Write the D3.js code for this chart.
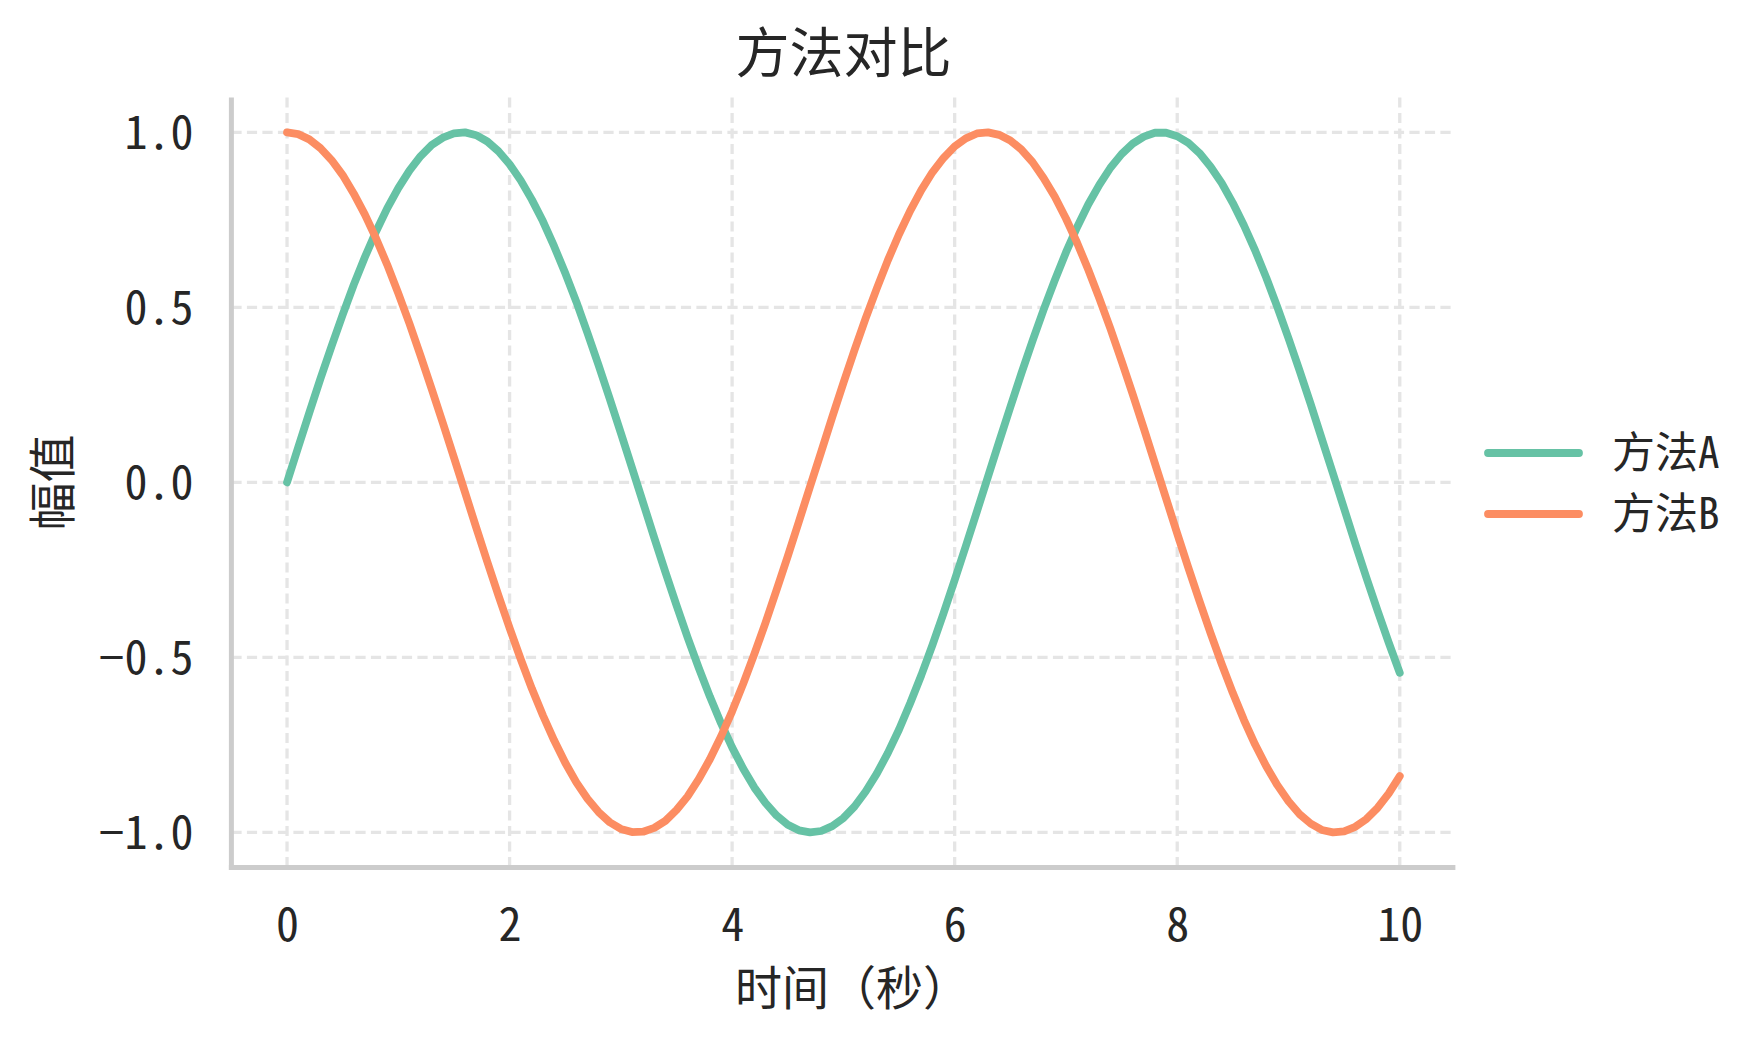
<!DOCTYPE html>
<html>
<head>
<meta charset="utf-8">
<script src="https://cdn.jsdelivr.net/npm/d3@7"></script>
<style>
    body { margin: 0; background: #fff; }
    svg text {
        font-family: "Noto Sans CJK SC", sans-serif;
        fill: #262626;
    }
    svg .hw { font-feature-settings: "hwid"; }
</style>
</head>
<body>
<div id="chart-container"></div>
<script>
// time axis (seconds), every 0.1 s
const times = [
    0.0, 0.1, 0.2, 0.3, 0.4, 0.5, 0.6, 0.7, 0.8, 0.9,
    1.0, 1.1, 1.2, 1.3, 1.4, 1.5, 1.6, 1.7, 1.8, 1.9,
    2.0, 2.1, 2.2, 2.3, 2.4, 2.5, 2.6, 2.7, 2.8, 2.9,
    3.0, 3.1, 3.2, 3.3, 3.4, 3.5, 3.6, 3.7, 3.8, 3.9,
    4.0, 4.1, 4.2, 4.3, 4.4, 4.5, 4.6, 4.7, 4.8, 4.9,
    5.0, 5.1, 5.2, 5.3, 5.4, 5.5, 5.6, 5.7, 5.8, 5.9,
    6.0, 6.1, 6.2, 6.3, 6.4, 6.5, 6.6, 6.7, 6.8, 6.9,
    7.0, 7.1, 7.2, 7.3, 7.4, 7.5, 7.6, 7.7, 7.8, 7.9,
    8.0, 8.1, 8.2, 8.3, 8.4, 8.5, 8.6, 8.7, 8.8, 8.9,
    9.0, 9.1, 9.2, 9.3, 9.4, 9.5, 9.6, 9.7, 9.8, 9.9,
    10.0
];

const methodA = [
    0.000, 0.100, 0.199, 0.296, 0.389, 0.479, 0.565, 0.644, 0.717, 0.783,
    0.841, 0.891, 0.932, 0.964, 0.985, 0.997, 1.000, 0.992, 0.974, 0.946,
    0.909, 0.863, 0.808, 0.746, 0.675, 0.598, 0.516, 0.427, 0.335, 0.239,
    0.141, 0.042, -0.058, -0.158, -0.256, -0.351, -0.443, -0.530, -0.612, -0.688,
    -0.757, -0.818, -0.872, -0.916, -0.952, -0.978, -0.994, -1.000, -0.996, -0.982,
    -0.959, -0.926, -0.883, -0.832, -0.773, -0.706, -0.631, -0.551, -0.465, -0.374,
    -0.279, -0.182, -0.083, 0.017, 0.117, 0.215, 0.312, 0.405, 0.494, 0.578,
    0.657, 0.729, 0.794, 0.850, 0.899, 0.938, 0.968, 0.988, 0.999, 0.999,
    0.989, 0.970, 0.941, 0.902, 0.855, 0.798, 0.734, 0.663, 0.585, 0.501,
    0.412, 0.319, 0.223, 0.124, 0.025, -0.075, -0.175, -0.272, -0.366, -0.457,
    -0.544
];

const methodB = [
    1.000, 0.995, 0.980, 0.955, 0.921, 0.878, 0.825, 0.765, 0.697, 0.622,
    0.540, 0.454, 0.362, 0.267, 0.170, 0.071, -0.029, -0.129, -0.227, -0.323,
    -0.416, -0.505, -0.589, -0.666, -0.737, -0.801, -0.857, -0.904, -0.942, -0.971,
    -0.990, -0.999, -0.998, -0.987, -0.967, -0.936, -0.897, -0.848, -0.791, -0.726,
    -0.654, -0.575, -0.490, -0.401, -0.307, -0.211, -0.112, -0.012, 0.087, 0.187,
    0.284, 0.378, 0.469, 0.554, 0.635, 0.709, 0.776, 0.835, 0.886, 0.927,
    0.960, 0.983, 0.997, 1.000, 0.993, 0.977, 0.951, 0.915, 0.869, 0.816,
    0.754, 0.685, 0.608, 0.526, 0.439, 0.347, 0.252, 0.154, 0.054, -0.046,
    -0.146, -0.244, -0.339, -0.431, -0.519, -0.602, -0.679, -0.749, -0.811, -0.865,
    -0.911, -0.948, -0.975, -0.993, -1.000, -0.997, -0.984, -0.962, -0.930, -0.889,
    -0.839
];

const seriesNames = ["方法A", "方法B"];
const seriesColors = ["#66c2a5", "#fc8d62"];
const xTicks = [0, 2, 4, 6, 8, 10];
const yTicks = [-1.0, -0.5, 0.0, 0.5, 1.0];

const width = 1759;
const height = 1041;
const margin = ({ top: 97.4, right: 303.6, bottom: 173.6, left: 231.4 });

const svg = d3.select("#chart-container")
    .append("svg")
    .attr("width", width)
    .attr("height", height)

const x = d3.scaleLinear()
    .domain([-0.5, 10.5])
    .range([margin.left, width - margin.right])

const y = d3.scaleLinear()
    .domain([-1.1, 1.1])
    .range([height - margin.bottom, margin.top])

// dashed grid
const grid = svg.append("g").attr("class", "grid")
grid.selectAll(".gx")
    .data(xTicks)
    .enter().append("line")
    .attr("x1", d => x(d)).attr("x2", d => x(d))
    .attr("y1", margin.top).attr("y2", height - margin.bottom)
grid.selectAll(".gy")
    .data(yTicks)
    .enter().append("line")
    .attr("x1", margin.left).attr("x2", width - margin.right)
    .attr("y1", d => y(d)).attr("y2", d => y(d))
grid.selectAll("line")
    .attr("stroke", "#e5e5e5")
    .attr("stroke-width", 3.3)
    .attr("stroke-dasharray", "10.2,5.3")

const xAxis = g => g
    .attr("transform", `translate(0,${height - margin.bottom})`)
    .call(d3.axisBottom(x).tickValues(xTicks).tickSize(0).tickPadding(0).tickFormat(d3.format("d")))
    .call(g => g.select(".domain").remove())
    .call(g => g.selectAll("text")
        .attr("class", "hw")
        .attr("y", 58)
        .attr("dy", "0.35em")
        .attr("fill", "#262626")
        .style("font-size", "46px"))

const yAxis = g => g
    .attr("transform", `translate(${margin.left},0)`)
    .call(d3.axisLeft(y).tickValues(yTicks).tickSize(0).tickPadding(0).tickFormat(d3.format(".1f")))
    .call(g => g.select(".domain").remove())
    .call(g => g.selectAll("text")
        .attr("class", "hw")
        .attr("x", -38)
        .attr("dy", "0.35em")
        .attr("fill", "#262626")
        .style("font-size", "46px"))

svg.append("g").call(xAxis);
svg.append("g").call(yAxis);

const series = [methodA, methodB];

const line = d3.line()
    .x((d, i) => x(times[i]))
    .y(d => y(d))

svg.selectAll(".series")
    .data(series)
    .enter().append("path")
    .attr("class", "series")
    .attr("fill", "none")
    .attr("stroke", (d, i) => seriesColors[i])
    .attr("stroke-width", 7.8)
    .attr("stroke-linejoin", "round")
    .attr("stroke-linecap", "round")
    .attr("d", line);

// spines (left and bottom only)
svg.append("line")
    .attr("x1", margin.left).attr("x2", margin.left)
    .attr("y1", margin.top).attr("y2", height - margin.bottom + 2.5)
    .attr("stroke", "#cccccc").attr("stroke-width", 5)
svg.append("line")
    .attr("x1", margin.left - 2.5).attr("x2", width - margin.right)
    .attr("y1", height - margin.bottom).attr("y2", height - margin.bottom)
    .attr("stroke", "#cccccc").attr("stroke-width", 5)

// title and axis labels
const cx = (margin.left + width - margin.right) / 2;
svg.append("text")
    .attr("x", cx).attr("y", 54)
    .attr("dy", "0.35em")
    .attr("text-anchor", "middle")
    .style("font-size", "54px")
    .text("方法对比")

svg.append("text")
    .attr("x", cx + 9).attr("y", 989)
    .attr("dy", "0.35em")
    .attr("text-anchor", "middle")
    .style("font-size", "47px")
    .text("时间（秒）")

svg.append("text")
    .attr("transform", `translate(53,${(margin.top + height - margin.bottom) / 2}) rotate(-90)`)
    .attr("dy", "0.35em")
    .attr("text-anchor", "middle")
    .style("font-size", "48px")
    .text("幅值")

// legend
const legend = svg.append("g").attr("transform", "translate(1488,453)")
const items = legend.selectAll(".item")
    .data(seriesNames)
    .enter().append("g")
    .attr("transform", (d, i) => `translate(0,${i * 61})`)
items.append("line")
    .attr("x1", 0).attr("x2", 91)
    .attr("stroke", (d, i) => seriesColors[i])
    .attr("stroke-width", 7.8)
    .attr("stroke-linecap", "round")
items.append("text")
    .attr("class", "hw")
    .attr("x", 124)
    .attr("dy", "0.35em")
    .style("font-size", "43px")
    .text(d => d)
</script>
</body>
</html>
